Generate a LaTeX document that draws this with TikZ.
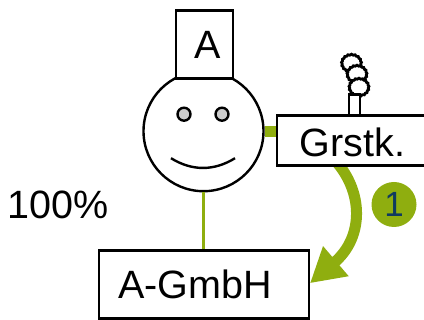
\documentclass[tikz,border=0pt]{standalone}
\usepackage{fontspec}
\setmainfont{Liberation Sans}
\usetikzlibrary{arrows.meta,shapes.symbols}
\definecolor{leafgreen}{HTML}{8FAE0F}
\definecolor{darkblue}{HTML}{0F3A5F}
\tikzset{
  smoke/.style={cloud,cloud puffs=17,cloud puff arc=120,aspect=1.2,draw=black,line width=2.8pt,fill=white,minimum width=20pt,minimum height=18pt},
  link/.style={draw=leafgreen,line width=#1},
  sketch/.style={
    x=1pt,y=-1pt,
    every node/.style={inner sep=0pt,font=\fontsize{39.5}{40}\selectfont},
    box/.style={draw=black,line width=2.4pt,fill=white,anchor=north west},
    eye/.style={circle,draw=black,line width=2.4pt,fill=black!20,minimum size=13pt}
  }
}
\begin{document}
\begin{tikzpicture}[sketch]
        \useasboundingbox (0,0.8) rectangle (424,320.8);
        \node[circle,draw=black,line width=2.4pt,fill=white,minimum size=120pt] (face) at (203.5,132) {};
        \node[box,minimum width=57pt,minimum height=68pt] (owner) at (175,10) {};
        \node (ownerlabel) at (208,46) {A};
        \node[eye] (lefteye) at (184,115) {};
        \node[eye] (righteye) at (222,115) {};
        \coordinate (smileleft) at (171,159);
        \coordinate (smileright) at (235,159);
        \draw[line width=2.4pt] (smileleft) .. controls (192,172) and (214,172) .. (smileright);
        \coordinate (arrowstart) at (334,160);
        \coordinate (arrowend) at (310,284);
        \draw[link=11pt,-{Triangle[length=34pt,width=37pt,fill=leafgreen]}] (arrowstart) .. controls (364,192) and (364,238) .. (arrowend);
        \node[box,minimum width=160pt,minimum height=50pt] (plot) at (276,115) {};
        \node (plotlabel) at (352.5,143.5) {Grstk.};
        \node[smoke] (puffa) at (351.5,64) {};
        \node[smoke] (puffb) at (357,75) {};
        \node[smoke] (puffc) at (359,88) {};
        \node[box,minimum width=11pt,minimum height=21pt] (chimney) at (348,94) {};
        \node[box,minimum width=210pt,minimum height=68pt] (company) at (98,250) {};
        \node (companylabel) at (195,285) {A-GmbH};
        \node (share) at (58.5,205.5) {100\%};
        \node[circle,fill=leafgreen,minimum size=45pt,text=darkblue,font=\fontsize{35}{35}\selectfont] (stepone) at (394,205.3) {1};
        \draw[link=2.2pt] (face.south) -- (company.north -| face.south);
        \draw[link=11pt] (face.east) -- (plot.west |- face.east);
\end{tikzpicture}
\end{document}
